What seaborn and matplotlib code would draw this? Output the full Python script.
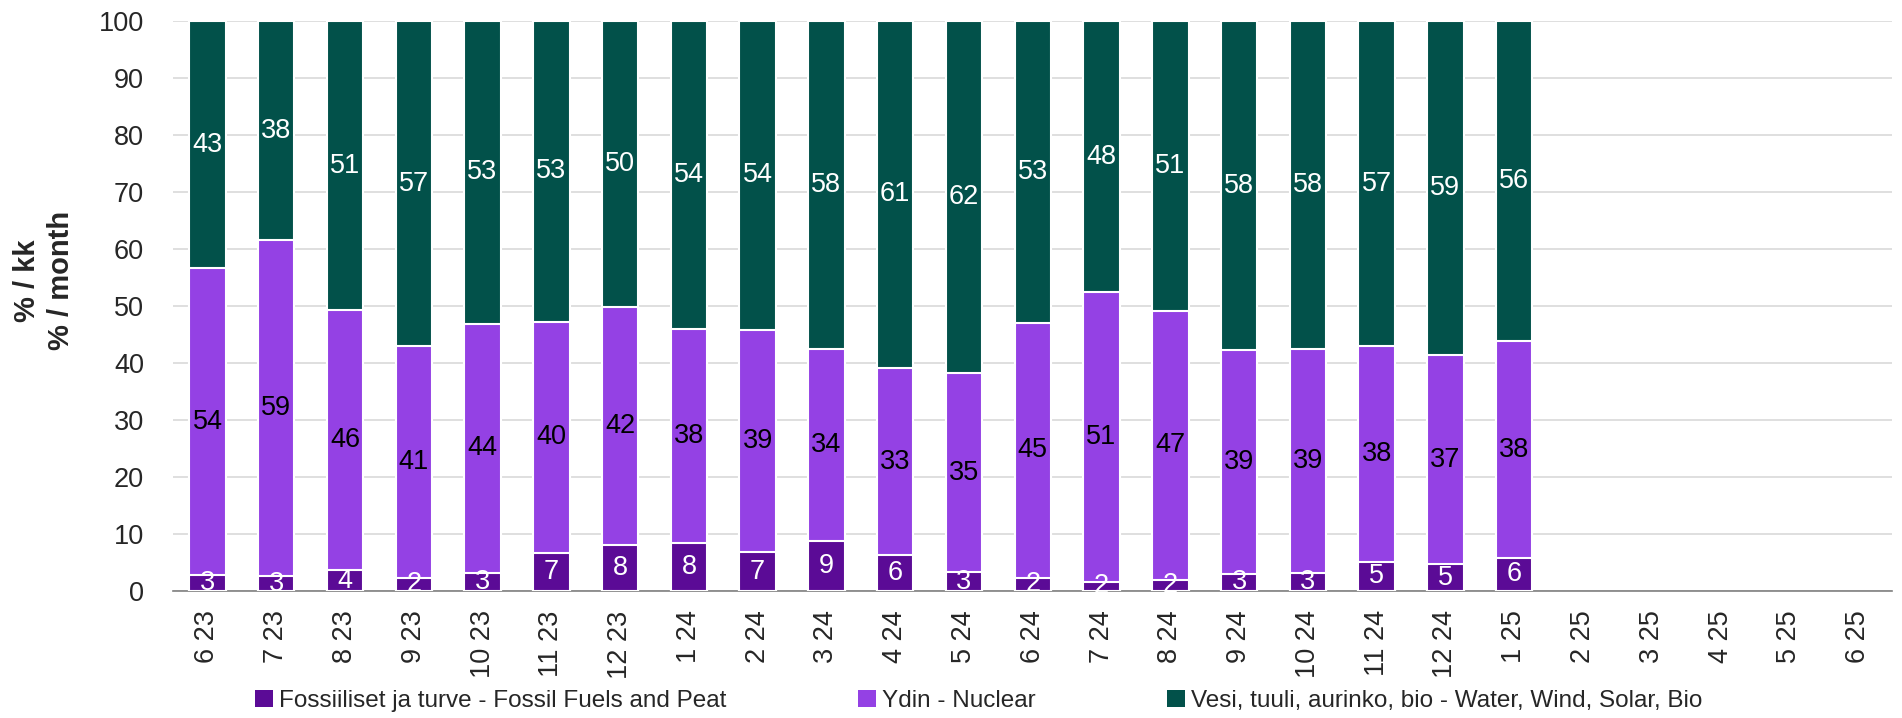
import numpy as np
import pandas as pd
import matplotlib
matplotlib.use("Agg")
import matplotlib.pyplot as plt
from matplotlib.patches import Patch
import seaborn as sns

months = ["6 23", "7 23", "8 23", "9 23", "10 23", "11 23", "12 23", "1 24", "2 24", "3 24",
          "4 24", "5 24", "6 24", "7 24", "8 24", "9 24", "10 24", "11 24", "12 24", "1 25",
          "2 25", "3 25", "4 25", "5 25", "6 25"]
fossil = [2.8, 2.6, 3.6, 2.3, 3.2, 6.7, 8.1, 8.4, 6.8, 8.7, 6.3, 3.3, 2.3, 1.6, 2.0, 3.0, 3.2, 5.1, 4.7, 5.8]
nuclear = [53.8, 58.9, 45.6, 40.6, 43.7, 40.5, 41.7, 37.6, 39.0, 33.8, 32.8, 34.9, 44.7, 50.8, 47.1, 39.2, 39.2, 37.8, 36.6, 38.0]
renew = [43.4, 38.5, 50.8, 57.1, 53.1, 52.8, 50.2, 54.0, 54.2, 57.5, 60.9, 61.8, 53.0, 47.6, 50.9, 57.8, 57.6, 57.1, 58.7, 56.2]

names = ["Fossiiliset ja turve - Fossil Fuels and Peat", "Ydin - Nuclear",
         "Vesi, tuuli, aurinko, bio - Water, Wind, Solar, Bio"]
colors = ["#5b0b96", "#9441e4", "#02514a"]
label_colors = ["white", "black", "white"]

n = len(months)
pad = [np.nan] * (n - len(fossil))
f = np.array(fossil + pad)
nu = np.array(nuclear + pad)
r = np.array(renew + pad)
c1 = f
c2 = f + nu
c3 = f + nu + r

df = pd.DataFrame({"month": months, "c1": c1, "c2": c2, "c3": c3})

sns.set_theme(style="white")
plt.rcParams["font.family"] = ["Liberation Sans", "DejaVu Sans"]

fig = plt.figure(figsize=(19.02, 7.18), dpi=100)
ax = fig.add_axes([0.091, 0.177, 0.904, 0.794])

W = 0.53
for col, colr in zip(["c3", "c2", "c1"], colors[::-1]):
    sns.barplot(data=df, x="month", y=col, order=months, color=colr, width=W,
                edgecolor="white", linewidth=1.5, saturation=1, ax=ax, zorder=3)

# labels
segs = [(np.zeros(n), c1, f), (c1, c2, nu), (c2, c3, r)]
for (lo, hi, val), lc in zip(segs, label_colors):
    for i in range(n):
        if np.isnan(val[i]):
            continue
        ax.text(i, (lo[i] + hi[i]) / 2, f"{val[i]:.0f}", ha="center", va="center",
                color=lc, fontsize=19.5, zorder=5)

ax.set_ylim(0, 100)
ax.set_xlim(-0.5, n - 0.5)
ax.set_yticks(range(0, 101, 10))
ax.yaxis.grid(True, color="#d9d9d9", linewidth=1.2, zorder=0)
ax.set_axisbelow(True)
ax.tick_params(axis="y", labelsize=19.5, length=0, pad=21)
ax.tick_params(axis="x", which="major", labelsize=19.5, length=0, pad=14, labelrotation=90)
ax.set_xticks(np.arange(-0.5, n, 1.0), minor=True)
ax.tick_params(axis="x", which="minor", length=8, width=1.2, color="#808080", direction="out")
for s in ["top", "right", "left"]:
    ax.spines[s].set_visible(False)
ax.spines["bottom"].set_color("#808080")
ax.spines["bottom"].set_linewidth(1.2)
ax.set_xlabel("")
ax.set_ylabel("")
fig.text(44 / 1902, 0.609, "% / kk\n% / month", rotation=90, ha="center", va="center",
         fontsize=21, fontweight="bold", linespacing=1.3)

handles = [Patch(facecolor=c, edgecolor="none") for c in colors]
fig.legend(handles, names, loc="center left", bbox_to_anchor=(255 / 1902, 0.024), ncol=3,
           frameon=False, fontsize=17.5, handlelength=0.74, handleheight=0.74,
           handletextpad=0.25, columnspacing=5.4, borderpad=0, borderaxespad=0)

fig.savefig("out.png", dpi=100)
